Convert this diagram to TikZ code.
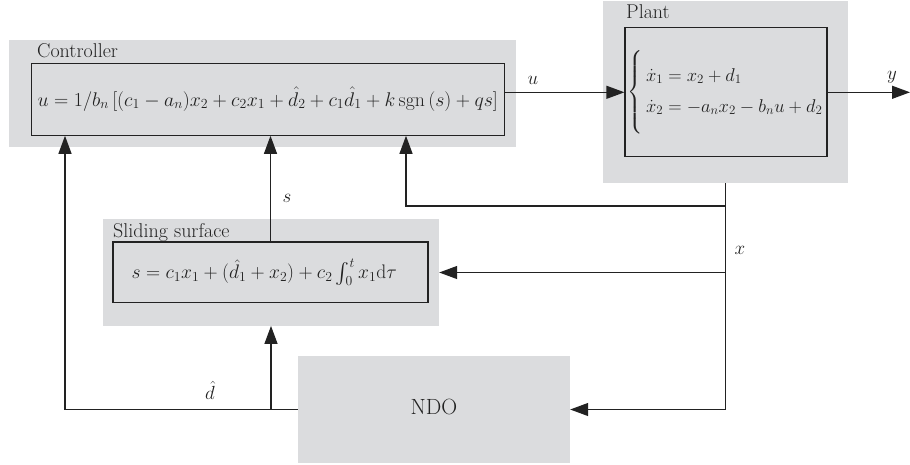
\documentclass[tikz,border=0pt]{standalone}
\usepackage{fix-cm}
\usepackage{amsmath}
\usepackage{fontspec}
\usetikzlibrary{arrows.meta}
\definecolor{panelgray}{HTML}{DBDCDE}
\definecolor{ink}{HTML}{222222}
\begin{document}
\begin{tikzpicture}[x=1pt,y=-1pt,
  panel/.style={fill=panelgray, draw=none, inner sep=0pt},
  eqbox/.style={draw=ink, line width=1.2pt, inner sep=0pt, fill=panelgray},
  lbl/.style={inner sep=0pt, font=\fontsize{20}{24}\selectfont, text=ink},
  sig/.style={inner sep=0pt, font=\fontsize{19}{23}\selectfont, text=ink},
  wire/.style={draw=ink, line width=1.2pt},
  flow/.style={wire, -{Triangle[length=18pt,width=13pt]}}]
  \useasboundingbox (0,0) rectangle (910,464);

  % Controller
  \node[panel, minimum width=507pt, minimum height=107pt] (ctrlbg) at (262.5,93.5) {};
  \node[eqbox, minimum width=473pt, minimum height=72pt] (ctrlin) at (268.3,99.2) {};
  \node[lbl, anchor=base west] (ctrlname) at (37,57) {Controller};
  \node[sig, font=\fontsize{19.8}{24}\selectfont, anchor=west] (ctrleq) at (37.5,99)
    {$u = 1/b_n\,[(c_1 - a_n)x_2 + c_2x_1 + \hat{d}_2 + c_1\hat{d}_1 + k\,\mathrm{sgn}\,(s) + qs]$};

  % Plant
  \node[panel, minimum width=245pt, minimum height=182pt] (plantbg) at (725.5,92) {};
  \node[eqbox, minimum width=202pt, minimum height=129pt] (plantin) at (726,92.3) {};
  \node[lbl, anchor=base west] (plantname) at (626,18) {Plant};
  \node[sig, font=\fontsize{18.5}{22}\selectfont, anchor=west] (planteq) at ([xshift=3pt]plantin.west)
    {$\left\{\rule[-36pt]{0pt}{80pt}\begin{array}{@{\,}l@{}}
      \dot{x}_1 = x_2 + d_1\\[9pt]
      \dot{x}_2 = -a_nx_2 - b_nu + d_2
    \end{array}\right.$};

  % Sliding surface
  \node[panel, minimum width=336pt, minimum height=106.4pt] (slidebg) at (271,272.5) {};
  \node[eqbox, minimum width=315pt, minimum height=60.7pt] (slidein) at (270.5,272.3) {};
  \node[lbl, anchor=base west] (slidename) at (113,237) {Sliding surface};
  \node[sig, font=\fontsize{19.6}{23}\selectfont, anchor=west] (slideeq) at (131.5,272.3)
    {$s = c_1x_1 + (\hat{d}_1 + x_2) + c_2\int_0^t x_1\mathrm{d}\tau$};

  % Observer
  \node[panel, minimum width=272pt, minimum height=107pt] (ndo) at (434,409.5) {};
  \node[lbl, font=\fontsize{22}{26}\selectfont] (ndoname) at (434,407) {NDO};

  % Signals
  \coordinate (yend) at (910,92.3);
  \coordinate (fb) at (406,206);
  \coordinate (dcorner) at (65,409.5);

  \draw[flow] (ctrlin.east |- plantin.west) -- (plantin.west);
  \draw[flow] (plantin.east) -- (yend);
  \draw[flow] (plantbg.south) |- (ndo.east);
  \draw[flow] (plantbg.south |- fb) -- (fb) -- (fb |- ctrlin.south);
  \draw[flow] (plantbg.south |- slidebg.east) -- (slidebg.east);
  \draw[flow] (slidein.north) -- (slidein.north |- ctrlin.south);
  \draw[flow] (ndo.west) -- (ndo.west -| dcorner) -- (dcorner |- ctrlin.south);
  \draw[flow] (slidebg.south |- ndo.west) -- (slidebg.south);

  % Signal names
  \node[sig] (ulbl) at (533,80) {$u$};
  \node[sig] (ylbl) at (892,77) {$y$};
  \node[sig] (slbl) at (287,198) {$s$};
  \node[sig] (xlbl) at (740,250) {$x$};
  \node[sig] (dlbl) at (210,390) {$\hat{d}$};
\end{tikzpicture}
\end{document}
